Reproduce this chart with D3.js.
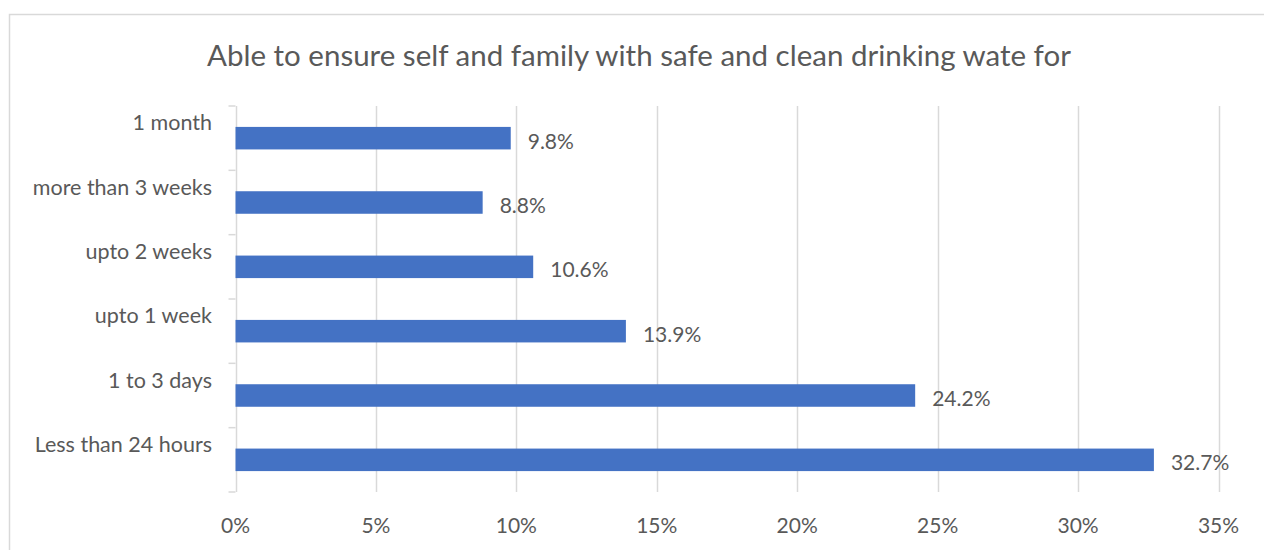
<!DOCTYPE html>
<html>
<head>
<meta charset="utf-8">
<script src="https://cdn.jsdelivr.net/npm/d3@7/dist/d3.min.js"></script>
<style>
  html, body { margin: 0; padding: 0; background: #fff; }
  svg { display: block; }
  text { font-family: Lato, "Open Sans", sans-serif; fill: #595959; }
</style>
</head>
<body>
<svg id="chart" width="1264" height="550"></svg>
<script>
const title = "Able to ensure self and family with safe and clean drinking wate for";
const categories = ["1 month", "more than 3 weeks", "upto 2 weeks", "upto 1 week", "1 to 3 days", "Less than 24 hours"];
const values = [9.8, 8.8, 10.6, 13.9, 24.2, 32.7];
const xTicks = [0, 5, 10, 15, 20, 25, 30, 35];

const svg = d3.select("#chart");
const margin = { left: 235.5, right: 1218.5, top: 106, bottom: 492 };

// Outer chart frame
svg.append("rect")
  .attr("x", 9.5).attr("y", 14.5)
  .attr("width", 1300).attr("height", 600)
  .attr("fill", "none").attr("stroke", "#d9d9d9").attr("stroke-width", 1.5);

svg.append("text")
  .attr("x", 639).attr("y", 66)
  .attr("text-anchor", "middle")
  .style("font-size", "29.5px")
  .text(title);

const x = d3.scaleLinear().domain([0, 35]).range([margin.left, margin.right]);
const y = d3.scaleBand().domain(categories).range([margin.top, margin.bottom]).paddingInner(0.65).paddingOuter(0.325);

// Vertical gridlines
svg.append("g").selectAll("line").data(xTicks).join("line")
  .attr("x1", d => Math.round(x(d)) + 0.5).attr("x2", d => Math.round(x(d)) + 0.5)
  .attr("y1", margin.top).attr("y2", margin.bottom)
  .attr("stroke", "#d9d9d9").attr("stroke-width", 1.5);

// Category tick marks at band boundaries
const step = (margin.bottom - margin.top) / categories.length;
svg.append("g").selectAll("line").data(d3.range(categories.length + 1)).join("line")
  .attr("x1", margin.left - 7).attr("x2", margin.left)
  .attr("y1", i => margin.top + i * step).attr("y2", i => margin.top + i * step)
  .attr("stroke", "#d9d9d9").attr("stroke-width", 1.5);

// X axis tick labels
svg.append("g").selectAll("text").data(xTicks).join("text")
  .attr("x", d => x(d)).attr("y", 533)
  .attr("text-anchor", "middle")
  .style("font-size", "21px")
  .text(d => d + "%");

// Bars
svg.append("g").selectAll("rect").data(values).join("rect")
  .attr("x", x(0))
  .attr("y", (d, i) => y(categories[i]))
  .attr("width", d => x(d) - x(0))
  .attr("height", y.bandwidth())
  .attr("fill", "#4472c4");

// Value labels
svg.append("g").selectAll("text").data(values).join("text")
  .attr("x", d => x(d) + 17)
  .attr("y", (d, i) => y(categories[i]) + y.bandwidth() / 2 + 10.5)
  .style("font-size", "21px")
  .text(d => d.toFixed(1) + "%");

// Category labels
svg.append("g").selectAll("text").data(categories).join("text")
  .attr("x", 212)
  .attr("y", d => y(d) + y.bandwidth() / 2 - 8)
  .attr("text-anchor", "end")
  .style("font-size", "21.5px")
  .text(d => d);
</script>
</body>
</html>
